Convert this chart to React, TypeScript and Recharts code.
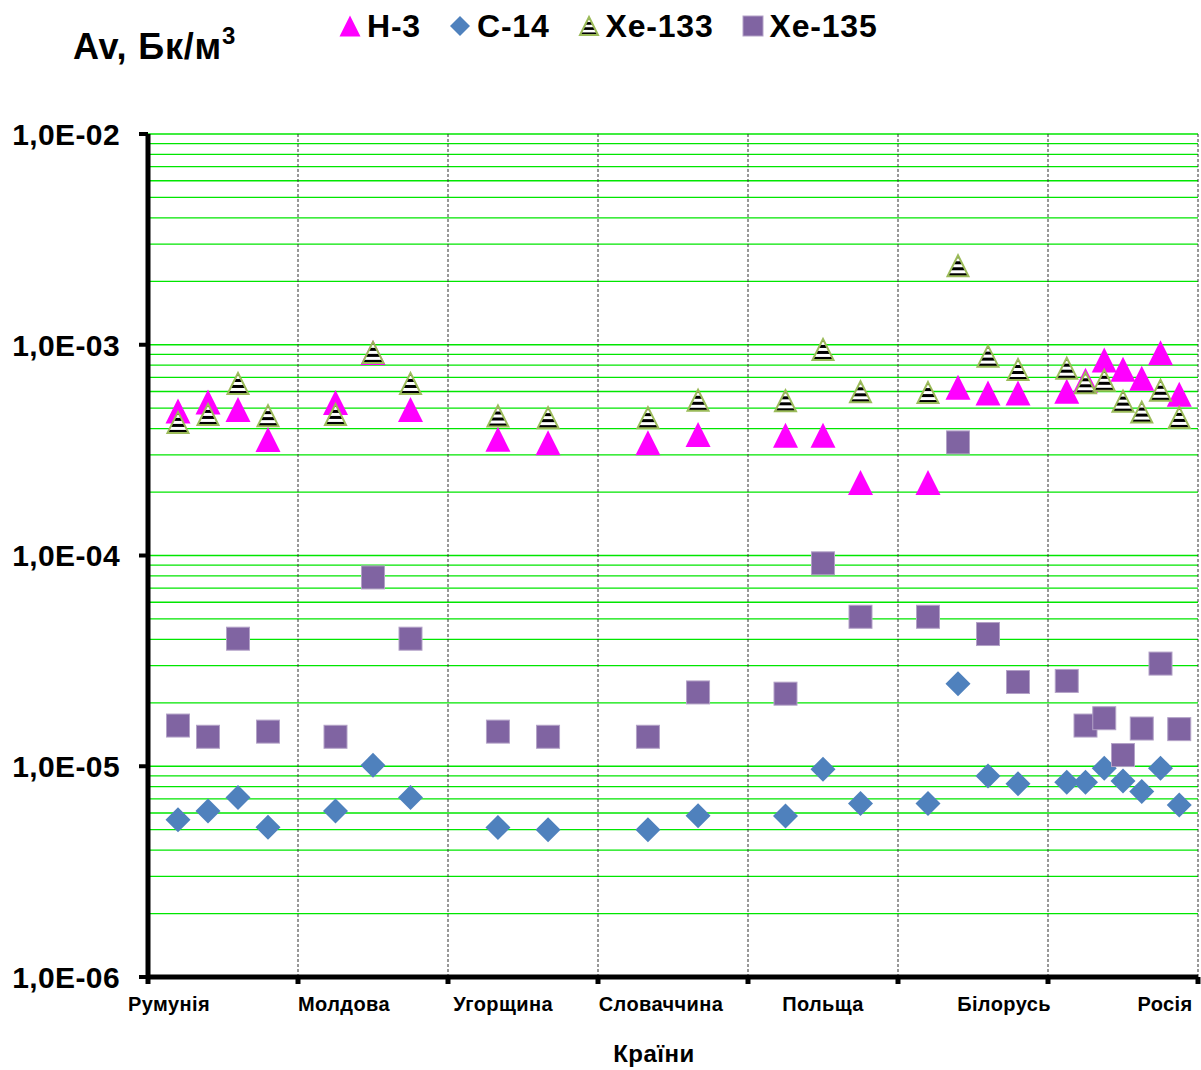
import React from 'react';
import { ScatterChart, Scatter, XAxis, YAxis, CartesianGrid, Legend } from 'recharts';

const FONT = '"Liberation Sans", Arial, sans-serif';

// countries and where their captions sit on the x scale (0..7, one unit per country)
const countries = ['Румунія', 'Молдова', 'Угорщина', 'Словаччина', 'Польща', 'Білорусь', 'Росія'];
const countryLabelPos = [0.14, 1.307, 2.367, 3.42, 4.5, 5.707, 6.78];
const groupEdges = [0, 1, 2, 3, 4, 5, 6, 7];

// x position of every measurement point
const xPos = [
  0.2, 0.4, 0.6, 0.8,
  1.25, 1.5, 1.75,
  2.333, 2.667,
  3.333, 3.667,
  4.25, 4.5, 4.75,
  5.2, 5.4, 5.6, 5.8,
  6.125, 6.25, 6.375, 6.5, 6.625, 6.75, 6.875,
];

const h3 = [
  4.85e-4, 5.35e-4, 4.93e-4, 3.55e-4,
  5.32e-4, 9.2e-4, 4.93e-4,
  3.56e-4, 3.43e-4,
  3.43e-4, 3.75e-4,
  3.72e-4, 3.72e-4, 2.22e-4,
  2.22e-4, 6.28e-4, 5.9e-4, 5.9e-4,
  6.02e-4, 6.79e-4, 8.47e-4, 7.65e-4, 6.94e-4, 9.16e-4, 5.82e-4,
];
const c14 = [
  5.58e-6, 6.13e-6, 7.11e-6, 5.13e-6,
  6.13e-6, 1.01e-5, 7.11e-6,
  5.12e-6, 5.0e-6,
  5.0e-6, 5.83e-6,
  5.8e-6, 9.68e-6, 6.65e-6,
  6.65e-6, 2.46e-5, 9.0e-6, 8.26e-6,
  8.4e-6, 8.4e-6, 9.79e-6, 8.52e-6, 7.58e-6, 9.79e-6, 6.54e-6,
];
const xe133 = [
  4.28e-4, 4.67e-4, 6.55e-4, 4.61e-4,
  4.67e-4, 9.2e-4, 6.55e-4,
  4.59e-4, 4.51e-4,
  4.51e-4, 5.45e-4,
  5.42e-4, 9.5e-4, 5.98e-4,
  5.93e-4, 2.37e-3, 8.83e-4, 7.63e-4,
  7.74e-4, 6.6e-4, 6.78e-4, 5.4e-4, 4.79e-4, 6.08e-4, 4.52e-4,
];
const xe135 = [
  1.56e-5, 1.38e-5, 4.03e-5, 1.46e-5,
  1.38e-5, 7.87e-5, 4.03e-5,
  1.46e-5, 1.38e-5,
  1.38e-5, 2.24e-5,
  2.21e-5, 9.18e-5, 5.12e-5,
  5.12e-5, 3.44e-4, 4.24e-5, 2.51e-5,
  2.54e-5, 1.56e-5, 1.69e-5, 1.13e-5, 1.51e-5, 3.07e-5, 1.5e-5,
];

const decades = [1e-6, 1e-5, 1e-4, 1e-3, 1e-2];
const minorSteps = [1, 2, 3, 4, 5, 6, 7, 8, 9];
const yTicks = decades.slice(0, -1).flatMap((d) => minorSteps.map((m) => m * d)).concat([1e-2]);

const toPoints = (vals: number[]) => xPos.map((x, i) => ({ x, y: vals[i] }));

const isDecade = (v: number) => Math.abs(Math.log10(v) - Math.round(Math.log10(v))) < 1e-6;

const fmtSci = (v: number) => {
  const e = Math.round(Math.log10(v));
  const m = v / Math.pow(10, e);
  return `${m.toFixed(1).replace('.', ',')}E${e < 0 ? '-' : '+'}${String(Math.abs(e)).padStart(2, '0')}`;
};

// marker shapes
const Tri = ({ cx, cy, w, h, fill, stroke, sw }: any) => (
  <polygon
    points={`${cx},${cy - h / 2} ${cx + w / 2},${cy + h / 2} ${cx - w / 2},${cy + h / 2}`}
    fill={fill}
    stroke={stroke || 'none'}
    strokeWidth={sw || 0}
  />
);

const H3Shape = (p: any) => <Tri cx={p.cx} cy={p.cy} w={25} h={25} fill="#FF00FF" />;
const Xe133Shape = (p: any) => (
  <Tri cx={p.cx} cy={p.cy} w={21} h={21} fill="url(#xeStripes)" stroke="#9BBB59" sw={2} />
);
const C14Shape = (p: any) => (
  <polygon
    points={`${p.cx},${p.cy - 12.5} ${p.cx + 12.5},${p.cy} ${p.cx},${p.cy + 12.5} ${p.cx - 12.5},${p.cy}`}
    fill="#4F81BD"
  />
);
const Xe135Shape = (p: any) => (
  <rect x={p.cx - 11.5} y={p.cy - 11.5} width={23} height={23} fill="#8064A2" stroke="#B3A2C7" strokeWidth={1} />
);

const stripes = (id: string) => (
  <pattern id={id} patternUnits="objectBoundingBox" patternContentUnits="objectBoundingBox" width="1" height="0.2857">
    <rect x="0" y="0" width="1" height="0.2857" fill="#FFFFFF" />
    <rect x="0" y="0" width="1" height="0.1429" fill="#000000" />
  </pattern>
);

const YTick = ({ x, y, payload }: any) => {
  const v = payload.value;
  if (!isDecade(v)) return <g />;
  return (
    <g>
      <line x1={x - 9} x2={x} y1={y} y2={y} stroke="#000" strokeWidth={4} />
      <text
        x={x - 28}
        y={y}
        dy="0.36em"
        textAnchor="end"
        fontFamily={FONT}
        fontWeight="bold"
        fontSize={30}
        letterSpacing={0.4}
        fill="#000"
      >
        {fmtSci(v)}
      </text>
    </g>
  );
};

const NoLabel = () => <g />;

const CountryTick = ({ x, y, payload }: any) => {
  const i = countryLabelPos.findIndex((p) => Math.abs(p - payload.value) < 1e-6);
  return (
    <text
      x={x}
      y={y + 14}
      textAnchor="middle"
      fontFamily={FONT}
      fontWeight="bold"
      fontSize={20}
      letterSpacing={0.4}
      fill="#000"
    >
      {countries[i] ?? ''}
    </text>
  );
};

const legendItems = [
  { name: 'Н-3', marker: <Tri cx={11} cy={11} w={21} h={21} fill="#FF00FF" /> },
  {
    name: 'С-14',
    marker: <polygon points="11,1 21,11 11,21 1,11" fill="#4F81BD" />,
  },
  {
    name: 'Хе-133',
    marker: <Tri cx={11} cy={11} w={18} h={18} fill="url(#xeStripesLegend)" stroke="#9BBB59" sw={2} />,
  },
  {
    name: 'Хе-135',
    marker: <rect x={1} y={1} width={20} height={20} fill="#8064A2" stroke="#B3A2C7" strokeWidth={1} />,
  },
];

const LegendContent = () => (
  <div
    style={{
      display: 'flex',
      alignItems: 'center',
      fontFamily: FONT,
      fontWeight: 'bold',
      fontSize: 32,
      lineHeight: '40px',
      letterSpacing: 0.8,
      color: '#000',
      whiteSpace: 'nowrap',
    }}
  >
    {legendItems.map((it, i) => (
      <div key={it.name} style={{ display: 'flex', alignItems: 'center', marginRight: 28 }}>
        <svg width={22} height={22} style={{ marginRight: 6, overflow: 'visible' }}>
          {i === 2 && <defs>{stripes('xeStripesLegend')}</defs>}
          {it.marker}
        </svg>
        <span>{it.name}</span>
      </div>
    ))}
  </div>
);

export default function App() {
  return (
    <div style={{ position: 'absolute', left: 0, top: 0, width: 1201, height: 1070, background: '#fff' }}>
      <ScatterChart width={1201} height={1070} margin={{ top: 134, right: 3, bottom: 0, left: 0 }}>
        <defs>{stripes('xeStripes')}</defs>
        <CartesianGrid vertical={false} stroke="#00E600" strokeWidth={1.3} />
        <CartesianGrid horizontal={false} stroke="#333" strokeWidth={1} strokeDasharray="3 2" />
        <XAxis
          dataKey="x"
          type="number"
          domain={[0, 7]}
          ticks={groupEdges}
          interval={0}
          tick={<NoLabel />}
          tickSize={7}
          tickLine={{ stroke: '#000', strokeWidth: 5 }}
          axisLine={{ stroke: '#000', strokeWidth: 5 }}
          height={20}
        />
        <XAxis
          xAxisId="lbl"
          dataKey="x"
          type="number"
          domain={[0, 7]}
          allowDataOverflow
          ticks={countryLabelPos}
          interval={0}
          tick={<CountryTick />}
          tickSize={0}
          tickMargin={0}
          tickLine={false}
          axisLine={false}
          height={73}
          label={{
            content: ({ viewBox }: any) => (
              <text
                x={viewBox.x + viewBox.width / 2 - 19}
                y={viewBox.y + 65}
                textAnchor="middle"
                fontFamily={FONT}
                fontWeight="bold"
                fontSize={24}
                letterSpacing={0.5}
                fill="#000"
              >
                Країни
              </text>
            ),
          }}
        />
        <YAxis
          dataKey="y"
          type="number"
          scale="log"
          domain={[1e-6, 1e-2]}
          ticks={yTicks}
          interval={0}
          width={148}
          tick={<YTick />}
          tickSize={0}
          tickMargin={0}
          tickLine={false}
          axisLine={{ stroke: '#000', strokeWidth: 5 }}
          allowDataOverflow
          label={{
            content: ({ viewBox }: any) => (
              <text
                x={viewBox.x + 73}
                y={viewBox.y - 75}
                fontFamily={FONT}
                fontWeight="bold"
                fontSize={36}
                letterSpacing={0.8}
                fill="#000"
              >
                Av, Бк/м
                <tspan dy={-15} fontSize={24}>
                  3
                </tspan>
              </text>
            ),
          }}
        />
        <Legend
          verticalAlign="top"
          content={<LegendContent />}
          wrapperStyle={{ top: 6, left: 339, width: 800, height: 0 }}
        />
        <Scatter name="Н-3" data={toPoints(h3)} fill="#FF00FF" shape={H3Shape} isAnimationActive={false} />
        <Scatter name="С-14" data={toPoints(c14)} fill="#4F81BD" shape={C14Shape} isAnimationActive={false} />
        <Scatter name="Хе-133" data={toPoints(xe133)} fill="#9BBB59" shape={Xe133Shape} isAnimationActive={false} />
        <Scatter name="Хе-135" data={toPoints(xe135)} fill="#8064A2" shape={Xe135Shape} isAnimationActive={false} />
      </ScatterChart>
    </div>
  );
}
